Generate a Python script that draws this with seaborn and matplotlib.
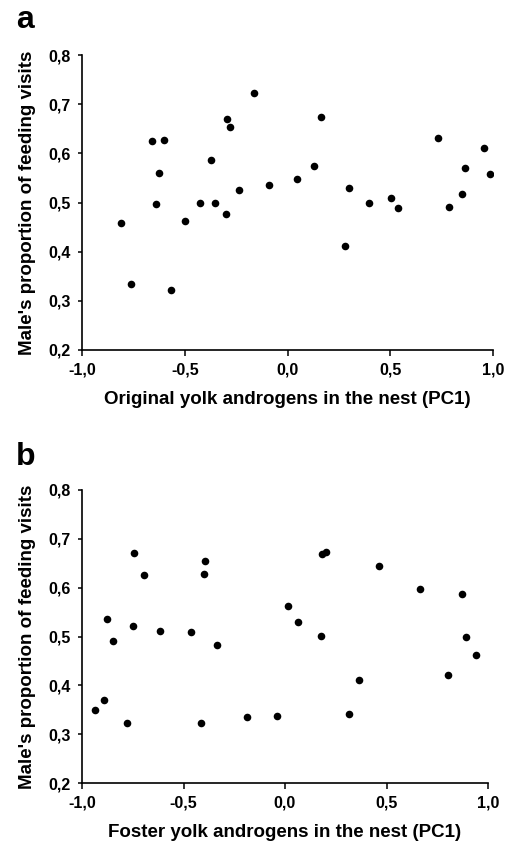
import pandas as pd
import seaborn as sns
import matplotlib.pyplot as plt

# Panel a: original yolk androgens (PC1) vs male's share of feeding visits
orig_pc1 = [-0.808, -0.760, -0.661, -0.601, -0.623, -0.638, -0.568, -0.500, -0.425, -0.373,
            -0.354, -0.292, -0.279, -0.299, -0.234, -0.164, -0.088, 0.044, 0.127, 0.162,
            0.299, 0.282, 0.396, 0.506, 0.537, 0.731, 0.787, 0.849, 0.862, 0.956, 0.985]
orig_male = [0.458, 0.335, 0.626, 0.628, 0.561, 0.497, 0.323, 0.462, 0.500, 0.586,
             0.500, 0.670, 0.653, 0.477, 0.526, 0.723, 0.535, 0.548, 0.575, 0.674,
             0.529, 0.411, 0.500, 0.509, 0.488, 0.632, 0.490, 0.517, 0.571, 0.610, 0.557]

# Panel b: foster yolk androgens (PC1)
foster_pc1 = [-0.936, -0.890, -0.879, -0.846, -0.780, -0.751, -0.744, -0.695, -0.614, -0.465,
              -0.414, -0.398, -0.393, -0.334, -0.186, -0.040, 0.017, 0.063, 0.175, 0.181,
              0.204, 0.316, 0.363, 0.463, 0.667, 0.805, 0.870, 0.893, 0.941]
foster_male = [0.350, 0.369, 0.535, 0.490, 0.323, 0.521, 0.671, 0.626, 0.511, 0.509,
               0.322, 0.628, 0.654, 0.483, 0.335, 0.338, 0.563, 0.529, 0.501, 0.668,
               0.674, 0.341, 0.411, 0.645, 0.597, 0.422, 0.587, 0.500, 0.462]

x_ticks = [-1.0, -0.5, 0.0, 0.5, 1.0]
x_tick_labels = ["-1,0", "-0,5", "0,0", "0,5", "1,0"]
y_ticks = [0.2, 0.3, 0.4, 0.5, 0.6, 0.7, 0.8]
y_tick_labels = ["0,2", "0,3", "0,4", "0,5", "0,6", "0,7", "0,8"]

df_a = pd.DataFrame({"pc1": orig_pc1, "male": orig_male})
df_b = pd.DataFrame({"pc1": foster_pc1, "male": foster_male})

sns.set_style("ticks")
plt.rcParams['font.family'] = ['Liberation Sans', 'DejaVu Sans']
plt.rcParams['font.weight'] = 'bold'
plt.rcParams['text.color'] = 'black'
plt.rcParams['axes.labelcolor'] = 'black'
plt.rcParams['xtick.color'] = 'black'
plt.rcParams['ytick.color'] = 'black'

fig = plt.figure(figsize=(5.08, 8.43), dpi=100)
W, H = 508, 843
ax_a = fig.add_axes([82 / W, 1 - 350 / H, (493 - 82) / W, (350 - 55) / H])
ax_b = fig.add_axes([82 / W, 1 - 783 / H, (488 - 82) / W, (783 - 490) / H])

panels = [
    (ax_a, df_a, "Original yolk androgens in the nest (PC1)", "a", 28),
    (ax_b, df_b, "Foster yolk androgens in the nest (PC1)", "b", 465),
]

for ax, df, xlabel, letter, letter_y in panels:
    sns.scatterplot(data=df, x="pc1", y="male", ax=ax, color="black",
                    s=30, edgecolor="black", linewidth=0)
    ax.set_xlim(-1.0, 1.0)
    ax.set_ylim(0.2, 0.8)
    ax.set_xticks(x_ticks)
    ax.set_xticklabels(x_tick_labels)
    ax.set_yticks(y_ticks)
    ax.set_yticklabels(y_tick_labels)
    ax.tick_params(labelsize=11.5, width=1.1, direction="out")
    ax.tick_params(axis="x", length=4, pad=5)
    ax.tick_params(axis="y", length=3, pad=5)
    for lab in ax.get_xticklabels() + ax.get_yticklabels():
        lab.set_fontweight("bold")
    sns.despine(ax=ax)
    for side in ["left", "bottom"]:
        ax.spines[side].set_linewidth(1.2)
        ax.spines[side].set_color("black")
    ax.set_xlabel(xlabel, fontsize=13.5, fontweight="bold", labelpad=10)
    ax.set_ylabel("Male's proportion of feeding visits", fontsize=13.5,
                  fontweight="bold", labelpad=9)
    fig.text(16 / W, 1 - letter_y / H, letter, fontsize=23, fontweight="bold",
             ha="left", va="baseline")

fig.savefig("out.png", dpi=100)
